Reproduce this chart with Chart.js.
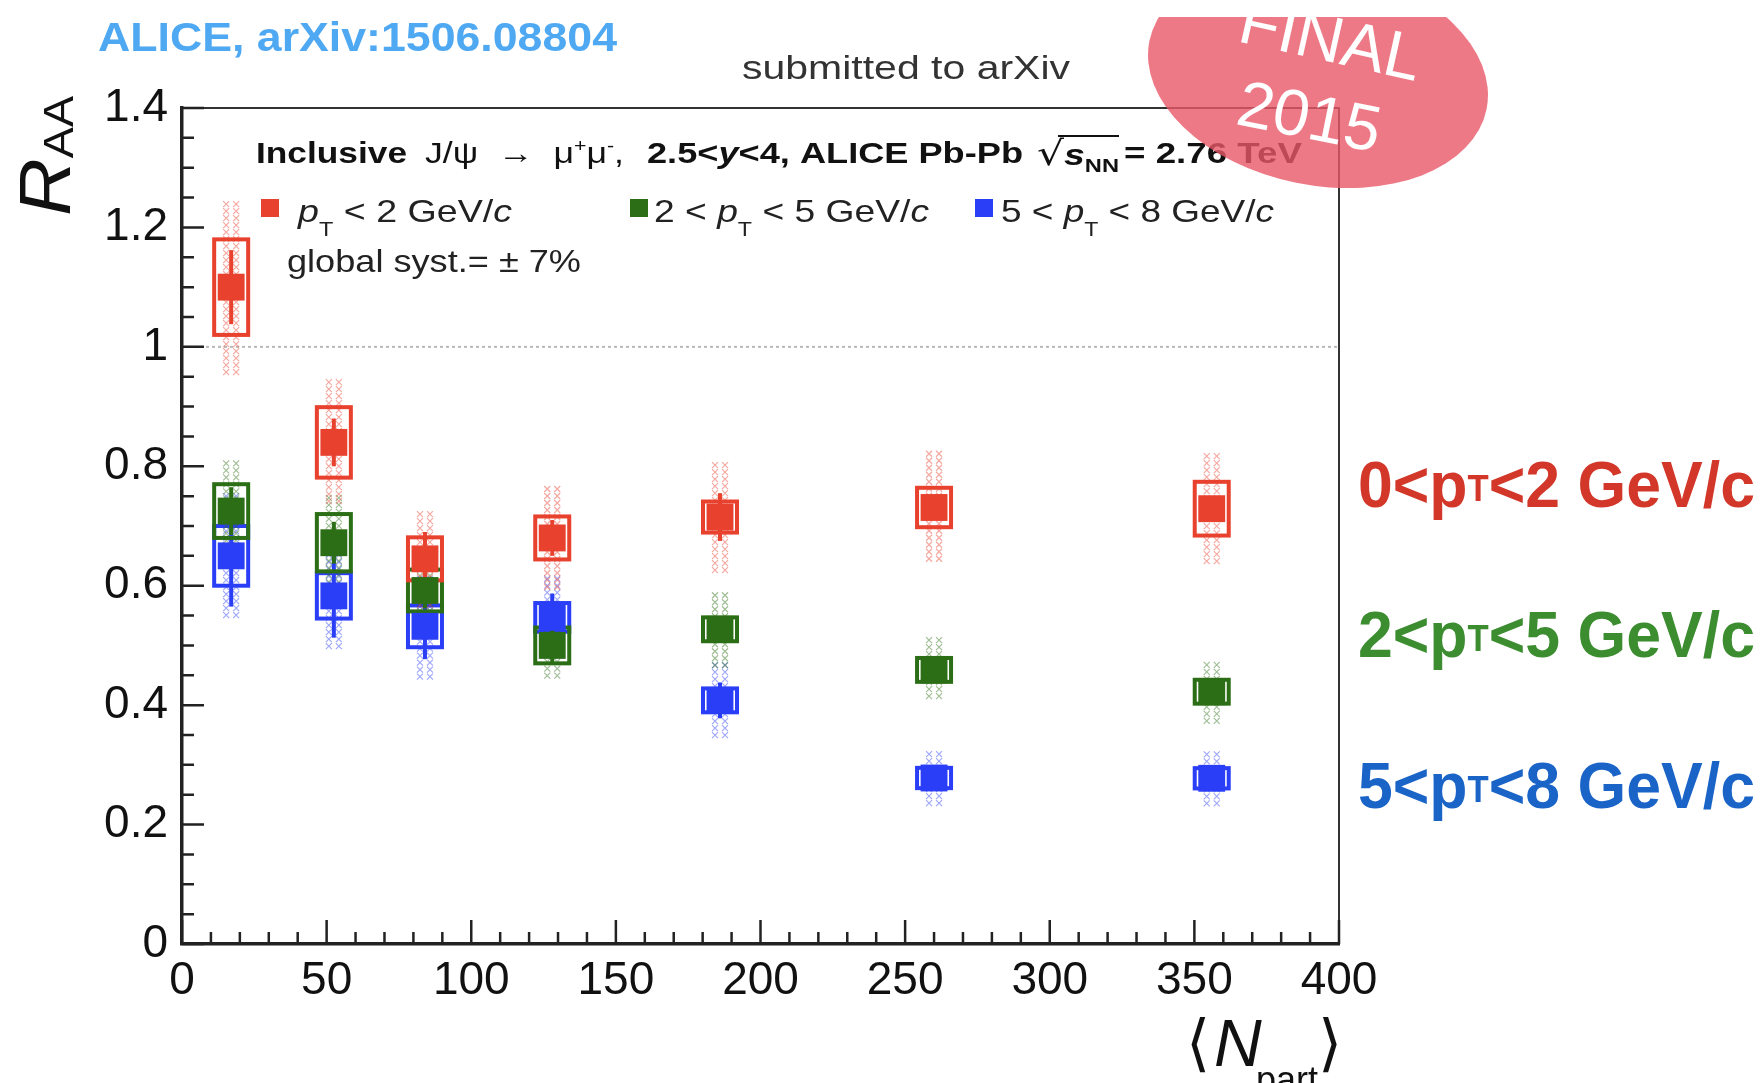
<!DOCTYPE html>
<html>
<head>
<meta charset="utf-8">
<script src="https://cdn.jsdelivr.net/npm/chart.js@4.4.1/dist/chart.umd.min.js"></script>
<style>
html, body { margin: 0; padding: 0; background: #fff; }
canvas { display: block; }
</style>
</head>
<body>
<canvas id="raa" width="1763" height="1083"></canvas>
<script>
// <Npart> of each centrality class
const npart = [17, 52.5, 84, 128, 186, 260, 356];

// RAA, 0 < pT < 2 GeV/c
const raaLow  = [1.10, 0.84, 0.645, 0.68, 0.715, 0.731, 0.729];
const statLow = [0.062, 0.04, 0.045, 0.03, 0.04, 0.02, 0.02];
const sysLow  = [0.08, 0.059, 0.036, 0.036, 0.026, 0.033, 0.045];
const corLow  = [0.144, 0.106, 0.08, 0.087, 0.092, 0.095, 0.093];

// RAA, 2 < pT < 5 GeV/c
const raaMid  = [0.725, 0.672, 0.592, 0.50, 0.527, 0.459, 0.4225];
const statMid = [0.04, 0.035, 0.03, 0.03, 0.02, 0.015, 0.015];
const sysMid  = [0.045, 0.048, 0.035, 0.03, 0.02, 0.02, 0.02];
const corMid  = [0.085, 0.08, 0.065, 0.06, 0.062, 0.055, 0.05];

// RAA, 5 < pT < 8 GeV/c
const raaHigh  = [0.65, 0.583, 0.532, 0.547, 0.408, 0.278, 0.2775];
const statHigh = [0.085, 0.07, 0.055, 0.04, 0.03, 0.02, 0.02];
const sysHigh  = [0.05, 0.038, 0.035, 0.024, 0.02, 0.017, 0.017];
const corHigh  = [0.105, 0.085, 0.085, 0.07, 0.064, 0.045, 0.045];

const xTicks = [0, 50, 100, 150, 200, 250, 300, 350, 400];
const yTicks = [0, 0.2, 0.4, 0.6, 0.8, 1, 1.2, 1.4];

const series = [
  { y: raaLow,  stat: statLow,  sys: sysLow,  cor: corLow,  color: '#e8412e', tag: '#d2372a' },
  { y: raaMid,  stat: statMid,  sys: sysMid,  cor: corMid,  color: '#2c6e16', tag: '#3c8c30' },
  { y: raaHigh, stat: statHigh, sys: sysHigh, cor: corHigh, color: '#2b3ef7', tag: '#1a64c8' }
];

const FONT = '"Liberation Sans", Arial, sans-serif';

// draw a row of text runs [text, font, dy, color], optionally squeezed to a width
function runs(ctx, parts, x, y, width, color) {
  let total = 0;
  parts.forEach(p => { ctx.font = p[1]; p.w = ctx.measureText(p[0]).width; total += p.w; });
  const sx = width ? width / total : 1;
  ctx.save();
  ctx.translate(x, y);
  ctx.scale(sx, 1);
  ctx.textBaseline = 'alphabetic';
  ctx.textAlign = 'left';
  let cx = 0;
  parts.forEach(p => {
    ctx.font = p[1];
    ctx.fillStyle = p[3] || color || '#111';
    ctx.fillText(p[0], cx, p[2] || 0);
    cx += p.w;
  });
  ctx.restore();
}

const errors = {
  id: 'errors',
  beforeDatasetsDraw(chart) {
    const { ctx, scales: { x, y } } = chart;
    ctx.save();
    // reference line at RAA = 1
    ctx.strokeStyle = '#b8b8b8';
    ctx.lineWidth = 2;
    ctx.setLineDash([3, 3]);
    ctx.beginPath();
    ctx.moveTo(x.getPixelForValue(0), y.getPixelForValue(1));
    ctx.lineTo(x.getPixelForValue(400), y.getPixelForValue(1));
    ctx.stroke();
    ctx.setLineDash([]);

    series.slice().reverse().forEach(s => {
      npart.forEach((n, i) => {
        const px = x.getPixelForValue(n);
        const v = s.y[i];
        // correlated uncertainty, hatched
        const c0 = y.getPixelForValue(v + s.cor[i]);
        const c1 = y.getPixelForValue(v - s.cor[i]);
        ctx.strokeStyle = s.color;
        ctx.globalAlpha = 0.45;
        ctx.lineWidth = 1.2;
        for (let yy = c0; yy < c1 - 3; yy += 7) {
          [-5, 5].forEach(dx => {
            ctx.beginPath();
            ctx.moveTo(px + dx - 3, yy); ctx.lineTo(px + dx + 3, yy + 6);
            ctx.moveTo(px + dx + 3, yy); ctx.lineTo(px + dx - 3, yy + 6);
            ctx.stroke();
          });
        }
        ctx.globalAlpha = 1;
        // uncorrelated systematic box
        const b0 = y.getPixelForValue(v + s.sys[i]);
        const b1 = y.getPixelForValue(v - s.sys[i]);
        ctx.lineWidth = 4;
        ctx.strokeRect(px - 17, b0, 34, b1 - b0);
        // statistical bar
        ctx.lineWidth = 4;
        ctx.beginPath();
        ctx.moveTo(px, y.getPixelForValue(v + s.stat[i]));
        ctx.lineTo(px, y.getPixelForValue(v - s.stat[i]));
        ctx.stroke();
      });
    });
    ctx.restore();
  },
  afterDatasetsDraw(chart) {
    const { ctx, chartArea: a, scales: { x, y } } = chart;
    ctx.save();
    // frame top / right
    ctx.strokeStyle = '#333';
    ctx.lineWidth = 2;
    ctx.beginPath();
    ctx.moveTo(a.left, a.top); ctx.lineTo(a.right, a.top); ctx.lineTo(a.right, a.bottom);
    ctx.stroke();
    // inward ticks
    ctx.strokeStyle = '#222';
    ctx.lineWidth = 2.5;
    ctx.beginPath();
    for (let v = 0; v <= 400.001; v += 10) {
      const px = x.getPixelForValue(v);
      const len = Math.abs(v % 50) < 0.01 ? 24 : 12;
      ctx.moveTo(px, a.bottom); ctx.lineTo(px, a.bottom - len);
    }
    for (let k = 0; k <= 28; k++) {
      const py = y.getPixelForValue(k * 0.05);
      const len = k % 4 === 0 ? 22 : 12;
      ctx.moveTo(a.left, py); ctx.lineTo(a.left + len, py);
    }
    ctx.stroke();
    ctx.restore();
  },
  afterDraw(chart) {
    const { ctx } = chart;
    ctx.save();
    // header texts
    runs(ctx, [['ALICE, arXiv:1506.08804', 'bold 40px ' + FONT]], 98, 51, 519, '#4ea8f2');
    runs(ctx, [['submitted to arXiv', '34px ' + FONT]], 742, 79, 328, '#333');

    // legend title
    const b = 'bold 30px ' + FONT, n = '30px ' + FONT;
    runs(ctx, [['Inclusive', b]], 256, 163, 151);
    runs(ctx, [['J/\u03c8  \u2192  \u03bc', n], ['+', '18px ' + FONT, -11], ['\u03bc', n], ['-', '18px ' + FONT, -11], [',', n]], 425, 163, 199);
    runs(ctx, [['2.5<', b], ['y', 'italic bold 30px ' + FONT], ['<4, ALICE Pb-Pb', b]], 647, 163, 376);
    runs(ctx, [['\u221a', '34px "DejaVu Sans"'], ['s', 'italic bold 30px ' + FONT], ['NN', 'bold 19px ' + FONT, 7]], 1037, 165, 82);
    // overline of the sqrt
    ctx.strokeStyle = '#111'; ctx.lineWidth = 2;
    ctx.beginPath(); ctx.moveTo(1058, 136); ctx.lineTo(1119, 136); ctx.stroke();
    runs(ctx, [['= 2.76 TeV', b]], 1124, 163, 178);

    // legend entries
    const m = '32px ' + FONT, mi = 'italic 32px ' + FONT, sub = '20px ' + FONT;
    const rows = [
      { box: 261, x: 298, w: 214, parts: [['p', mi], ['T', sub, 14], [' < 2 GeV/', m], ['c', mi]] },
      { box: 630, x: 654, w: 275, parts: [['2 < ', m], ['p', mi], ['T', sub, 14], [' < 5 GeV/', m], ['c', mi]] },
      { box: 975, x: 1001, w: 273, parts: [['5 < ', m], ['p', mi], ['T', sub, 14], [' < 8 GeV/', m], ['c', mi]] }
    ];
    rows.forEach((r, i) => {
      ctx.fillStyle = series[i].color;
      ctx.fillRect(r.box, 199, 18, 18);
      runs(ctx, r.parts, r.x, 222, r.w, '#222');
    });
    runs(ctx, [['global syst.= \u00b1 7%', '32px ' + FONT]], 287, 272, 294, '#222');

    // right-hand labels
    const tb = 'bold 65px ' + FONT, ts = 'bold 36px ' + FONT;
    const tags = [
      [['0<p', tb], ['T', ts, -6], ['<2 GeV/c', tb]],
      [['2<p', tb], ['T', ts, -6], ['<5 GeV/c', tb]],
      [['5<p', tb], ['T', ts, -6], ['<8 GeV/c', tb]]
    ];
    [507, 657, 808].forEach((yy, i) => runs(ctx, tags[i], 1358, yy, 397, series[i].tag));

    // y title R_AA
    ctx.save();
    ctx.translate(70, 216);
    ctx.rotate(-Math.PI / 2);
    runs(ctx, [['R', 'italic 72px ' + FONT], ['AA', '42px ' + FONT, 3]], 0, 0, 120, '#111');
    ctx.restore();

    // x title <N_part>
    runs(ctx, [['\u27e8', '62px "DejaVu Sans"']], 1186, 1064, 0, '#111');
    runs(ctx, [['N', 'italic 66px ' + FONT]], 1214, 1066, 0, '#111');
    runs(ctx, [['part', '36px ' + FONT]], 1256, 1092, 0, '#111');
    runs(ctx, [['\u27e9', '62px "DejaVu Sans"']], 1318, 1064, 0, '#111');

    // FINAL 2015 stamp
    ctx.beginPath();
    ctx.rect(0, 17, 1763, 1066);
    ctx.clip();
    ctx.fillStyle = 'rgba(234, 88, 104, 0.8)';
    ctx.beginPath();
    ctx.ellipse(1318, 75, 172, 110, 0.2, 0, Math.PI * 2);
    ctx.fill();
    ctx.fillStyle = '#fff';
    ctx.font = '65px ' + FONT;
    ctx.textAlign = 'center';
    ctx.textBaseline = 'alphabetic';
    ctx.save(); ctx.translate(1326, 61); ctx.rotate(0.22); ctx.fillText('FINAL', 0, 0); ctx.restore();
    ctx.save(); ctx.translate(1305, 138); ctx.rotate(0.2); ctx.fillText('2015', 0, 0); ctx.restore();
    ctx.restore();
  }
};

new Chart(document.getElementById('raa'), {
  type: 'scatter',
  data: {
    datasets: series.map(s => ({
      data: npart.map((n, i) => ({ x: n, y: s.y[i] })),
      backgroundColor: s.color,
      borderColor: s.color,
      pointStyle: 'rect',
      pointRadius: 19,
      borderWidth: 0
    }))
  },
  options: {
    responsive: false,
    animation: false,
    devicePixelRatio: 1,
    events: [],
    layout: { padding: { left: 0, top: 108, right: 424, bottom: 0 } },
    plugins: { legend: { display: false }, tooltip: { enabled: false } },
    scales: {
      x: {
        type: 'linear', min: 0, max: 400,
        afterBuildTicks: s => { s.ticks = xTicks.map(v => ({ value: v })); },
        afterFit: s => { s.height = 139; },
        ticks: { font: { family: 'Liberation Sans', size: 46 }, color: '#111', padding: 10, maxRotation: 0, autoSkip: false },
        grid: { drawOnChartArea: false, drawTicks: false },
        border: { display: true, color: '#222', width: 3.5 }
      },
      y: {
        type: 'linear', min: 0, max: 1.4,
        afterBuildTicks: s => { s.ticks = yTicks.map(v => ({ value: v })); },
        afterFit: s => { s.width = 182; },
        ticks: {
          font: { family: 'Liberation Sans', size: 46 }, color: '#111', padding: 14, autoSkip: false,
          callback: v => String(Number(v.toFixed(1)))
        },
        grid: { drawOnChartArea: false, drawTicks: false },
        border: { display: true, color: '#222', width: 3.5 }
      }
    }
  },
  plugins: [errors]
});
</script>
</body>
</html>
